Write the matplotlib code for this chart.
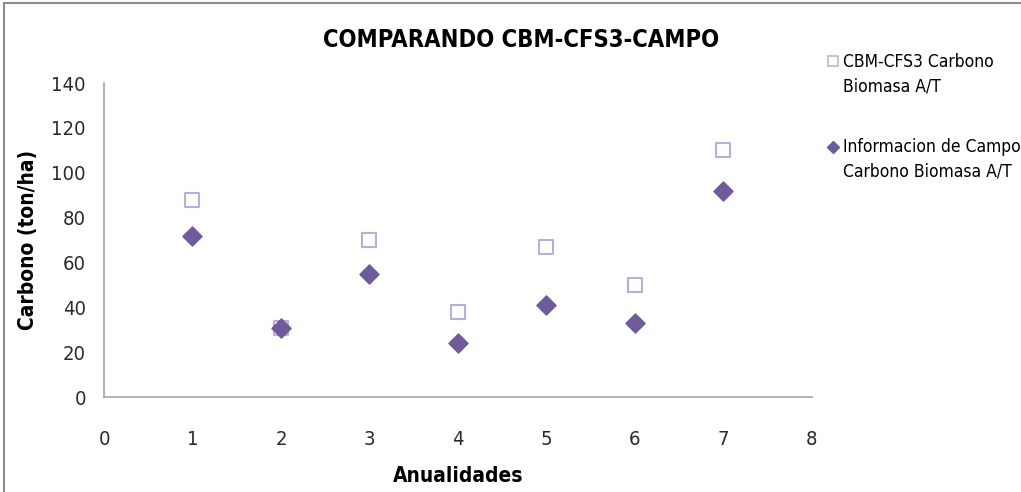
import matplotlib.pyplot as plt
from matplotlib.lines import Line2D
from matplotlib.patches import Rectangle

plt.rcParams['font.family'] = ['Liberation Sans Narrow', 'DejaVu Sans']
plt.rcParams['font.stretch'] = 'condensed'

# datos
anualidades = [1, 2, 3, 4, 5, 6, 7]
cbm_cfs3 = [88, 31, 70, 38, 67, 50, 110]
campo = [72, 31, 55, 24, 41, 33, 92]
serie_nombres = ['CBM-CFS3 Carbono\nBiomasa A/T', 'Informacion de Campo\nCarbono Biomasa A/T']

W, H = 1021, 492
fig = plt.figure(figsize=(W / 100, H / 100), dpi=100)
ax = fig.add_axes([0.1019, 0.193, 0.693, 0.638])

ax.scatter(anualidades, cbm_cfs3, marker='s', s=110, facecolor='white',
           edgecolor='#b9aed3', linewidth=1.5, zorder=3)
ax.scatter(anualidades, campo, marker='D', s=95, color='#6f5b9a', zorder=4)

ax.set_xlim(0, 8)
ax.set_ylim(0, 140)
ax.set_xticks(range(0, 9))
ax.set_yticks(range(0, 141, 20))
ax.tick_params(length=0, labelsize=14.5, colors='#2a2a2a', pad=13)
ax.tick_params(axis='x', pad=24)
for s in ['top', 'right']:
    ax.spines[s].set_visible(False)
for s in ['left', 'bottom']:
    ax.spines[s].set_color('#a6a6a6')
    ax.spines[s].set_linewidth(1.2)

ax.set_xlabel('Anualidades', fontsize=15, fontweight='bold', labelpad=12)
ax.set_ylabel('Carbono (ton/ha)', fontsize=15, fontweight='bold', labelpad=10)

fig.text(0.51, 1 - 40 / H, 'COMPARANDO CBM-CFS3-CAMPO', fontsize=17,
         fontweight='bold', ha='center', va='center')

# leyenda (colocada a mano, como en Excel)
fig.add_artist(Line2D([833 / W], [1 - 61 / H], transform=fig.transFigure,
                      linestyle='none', marker='s', markersize=6.5,
                      markerfacecolor='white', markeredgecolor='#b9aed3',
                      markeredgewidth=1.1))
fig.add_artist(Line2D([833 / W], [1 - 147 / H], transform=fig.transFigure,
                      linestyle='none', marker='D', markersize=6, color='#6f5b9a'))
for nombre, y0 in zip(serie_nombres, [62, 147]):
    for k, linea in enumerate(nombre.split('\n')):
        fig.text(843 / W, 1 - (y0 + 25 * k) / H, linea, fontsize=12.5,
                 ha='left', va='center')

# borde del area del grafico
fig.patches.append(Rectangle((0.004, -0.1), 1.2, 1.094, transform=fig.transFigure,
                             fill=False, edgecolor='#8c8c8c', linewidth=1.5))

fig.savefig('out.png', dpi=100)
